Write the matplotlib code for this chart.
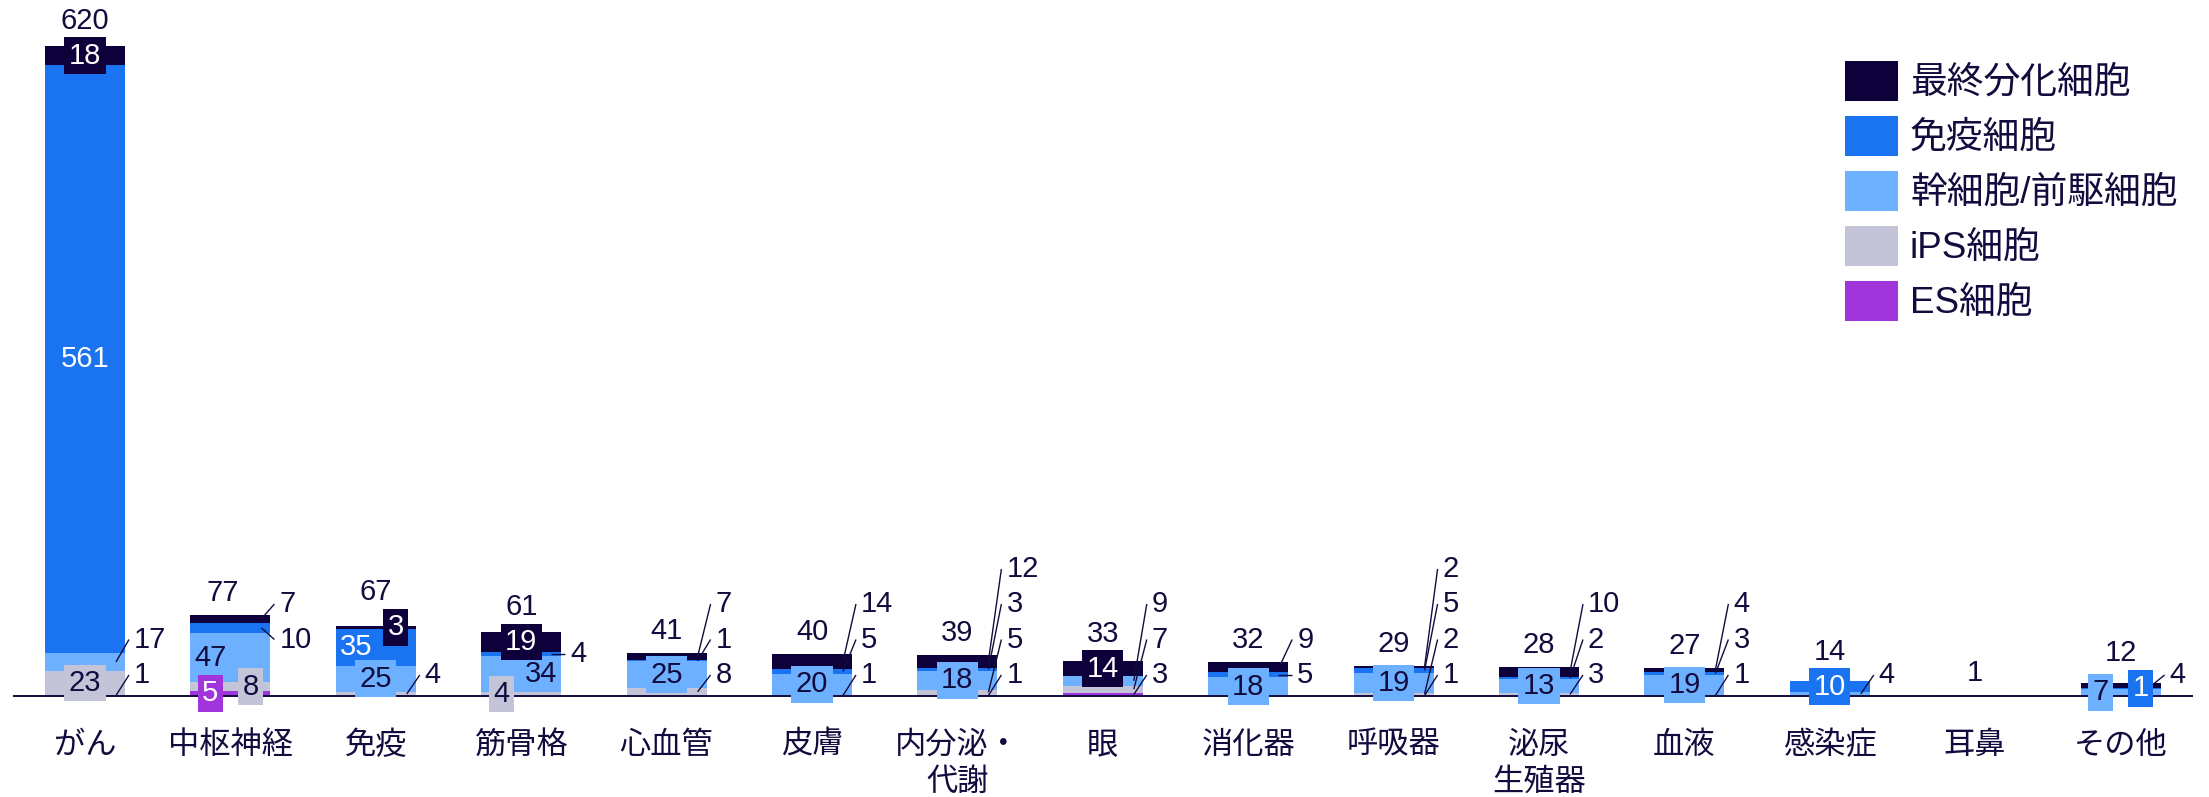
import numpy as np
import matplotlib
matplotlib.use('Agg')
import matplotlib.pyplot as plt
from matplotlib.patches import Rectangle

plt.rcParams['font.family'] = ['Liberation Sans', 'Noto Sans CJK JP']

categories = ['がん', '中枢神経', '免疫', '筋骨格', '心血管', '皮膚', '内分泌・\n代謝', '眼',
              '消化器', '呼吸器', '泌尿\n生殖器', '血液', '感染症', '耳鼻', 'その他']
series = ['ES細胞', 'iPS細胞', '幹細胞/前駆細胞', '免疫細胞', '最終分化細胞']
es = [1, 5, 0, 0, 0, 0, 1, 3, 0, 1, 0, 0, 0, 0, 0]
ips = [23, 8, 4, 4, 8, 1, 5, 7, 0, 2, 3, 1, 0, 0, 0]
stem = [17, 47, 25, 34, 25, 20, 18, 9, 18, 19, 13, 19, 4, 0, 7]
immune = [561, 10, 35, 4, 1, 5, 3, 0, 5, 5, 2, 3, 10, 1, 1]
terminal = [18, 7, 3, 19, 7, 14, 12, 14, 9, 2, 10, 4, 0, 0, 4]

layers = [es, ips, stem, immune, terminal]
colors = ['#A035DC', '#C4C4D9', '#6CB0FF', '#1A73F0', '#0D003B']
NAVY = '#120C3E'

# where segment labels go: callout level (stacked to the right of the bar),
# 'h' = short horizontal callout, otherwise inside with a sideways nudge in px
callouts = {
    (0, 2): 1, (0, 0): 0,
    (1, 4): 2, (1, 3): 1,
    (2, 1): 0,
    (3, 3): 'h',
    (4, 4): 2, (4, 3): 1, (4, 1): 0,
    (5, 4): 2, (5, 3): 1, (5, 1): 0,
    (6, 4): 3, (6, 3): 2, (6, 1): 1, (6, 0): 0,
    (7, 2): 2, (7, 1): 1, (7, 0): 0,
    (8, 4): 1, (8, 3): 'h',
    (9, 4): 3, (9, 3): 2, (9, 1): 1, (9, 0): 0,
    (10, 4): 2, (10, 3): 1, (10, 1): 0,
    (11, 4): 2, (11, 3): 1, (11, 1): 0,
    (12, 2): 0,
    (14, 4): 0,
}
inside_dx = {
    (1, 2): -20, (1, 1): 20, (1, 0): -20,
    (2, 4): 20, (2, 3): -20,
    (3, 2): 20, (3, 1): -20,
    (14, 2): -20, (14, 3): 20,
}
hidden = {(13, 3)}
total_dx = {1: -8}
levels_px = [21, 56.5, 92, 127]

W, H = 2209, 797
fig = plt.figure(figsize=(W / 100, H / 100), dpi=100)
ax = fig.add_axes([14 / W, 101 / H, 2178 / W, 686 / H])
x0, x1 = -0.4883, 14.491
ytop = 654.6
ax.set_xlim(x0, x1)
ax.set_ylim(0, ytop)
px_x = (x1 - x0) / 2178
px_y = ytop / 686

n = len(categories)
x = np.arange(n)
width = 0.55
half = width / 2

bottom = np.zeros(n)
for vals, c in zip(layers, colors):
    ax.bar(x, vals, width=width, bottom=bottom, color=c, linewidth=0, zorder=1)
    bottom += np.array(vals)
totals = bottom

num_size = 21
for i in range(n):
    base = 0
    box_top = 0
    for s, vals in enumerate(layers):
        v = vals[i]
        if v == 0:
            continue
        yc = base + v / 2
        base += v
        key = (i, s)
        if key in hidden:
            continue
        xr = x[i] + half
        if key in callouts:
            lvl = callouts[key]
            ty = yc if lvl == 'h' else levels_px[lvl] * px_y
            x_start = xr - (10 if lvl == 'h' else 9) * px_x
            ax.plot([x_start, xr + 4 * px_x], [yc, ty], color=NAVY, lw=1.0,
                    solid_capstyle='butt', zorder=4, clip_on=False)
            ax.text(xr + 9 * px_x, ty, str(v), ha='left', va='center',
                    fontsize=num_size, color=NAVY, zorder=5)
        else:
            dx = inside_dx.get(key, 0) * px_x
            tc = 'white' if s in (0, 3, 4) else NAVY
            bbox = None
            if v < 30:
                bbox = dict(boxstyle='square,pad=0.15', fc=colors[s], ec='none')
                box_top = max(box_top, yc / px_y + 18)
            ax.text(x[i] + dx, yc, str(v), ha='center', va='center',
                    fontsize=num_size, color=tc, bbox=bbox, zorder=5)
    # total above the stack
    label_px = max(totals[i] / px_y + 22, box_top + 17 if box_top else 0)
    ax.text(x[i] + total_dx.get(i, 0) * px_x, label_px * px_y, str(int(totals[i])),
            ha='center', va='center', fontsize=num_size, color=NAVY, zorder=5,
            clip_on=False)

ax.set_xticks(x)
ax.set_xticklabels(categories, fontsize=22.5, color=NAVY, linespacing=1.3)
ax.tick_params(axis='x', length=0, pad=25)
ax.set_yticks([])
for side in ['top', 'left', 'right']:
    ax.spines[side].set_visible(False)
ax.spines['bottom'].set_color(NAVY)
ax.spines['bottom'].set_linewidth(1.4)
ax.spines['bottom'].set_zorder(3)

# legend, top entry first
for k, s in enumerate(range(len(series) - 1, -1, -1)):
    top = 61 + 55 * k
    fig.add_artist(Rectangle((1845 / W, 1 - (top + 40) / H), 53 / W, 40 / H,
                             transform=fig.transFigure, color=colors[s], lw=0))
    fig.text(1910 / W, 1 - (top + 22) / H, series[s], ha='left', va='center',
             fontsize=26.5, color=NAVY)

fig.savefig('out.png', dpi=100)
